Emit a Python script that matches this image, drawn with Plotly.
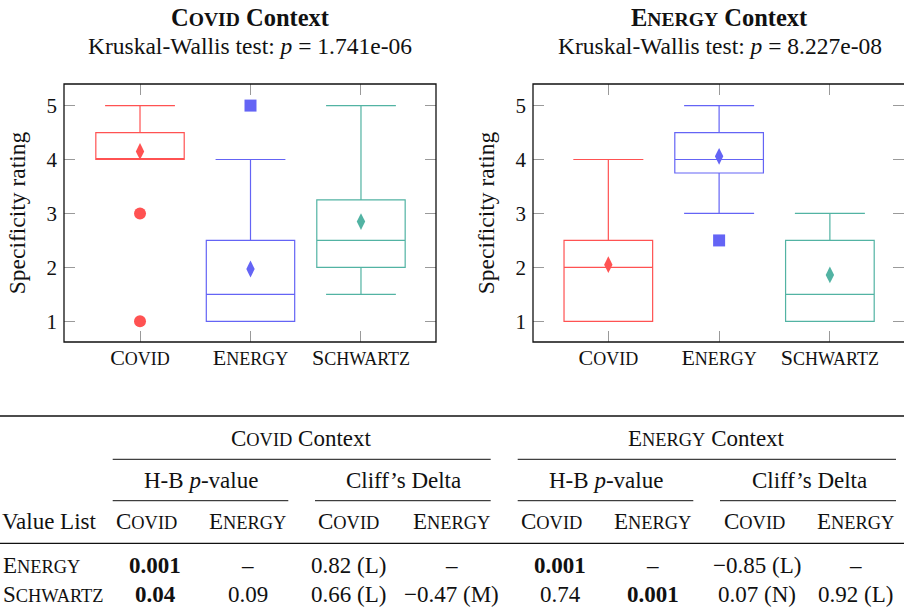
import plotly.graph_objects as go

W, H = 904, 612
FONT = "Liberation Serif"

# ---- box-plot data: specificity ratings per value list ----
categories = ["Covid", "Energy", "Schwartz"]
colors = ["#ff5252", "#6464f5", "#52b3a3"]
outlier_symbols = ["circle", "square", "circle"]

covid_q1 = [4.0, 1.0, 2.0]
covid_median = [4.0, 1.5, 2.5]
covid_q3 = [4.5, 2.5, 3.25]
covid_lower = [4.0, 1.0, 1.5]
covid_upper = [5.0, 4.0, 5.0]
covid_mean = [4.15, 1.97, 2.85]
covid_outliers = [[3.0, 1.0], [5.0], []]

energy_q1 = [1.0, 3.75, 1.0]
energy_median = [2.0, 4.0, 1.5]
energy_q3 = [2.5, 4.5, 2.5]
energy_lower = [1.0, 3.0, 1.0]
energy_upper = [4.0, 5.0, 3.0]
energy_mean = [2.05, 4.06, 1.86]
energy_outliers = [[], [2.5], []]

contexts = ["Covid", "Energy"]
kw_pvalues = ["1.741e-06", "8.227e-08"]
y_ticks = [1, 2, 3, 4, 5]

# ---- pairwise test table ----
row_lists = ["Energy", "Schwartz"]
col_lists = ["Covid", "Energy"]
covid_ctx_hb = [[0.001, None], [0.04, 0.09]]
covid_ctx_delta = [[(0.82, "L"), None], [(0.66, "L"), (-0.47, "M")]]
energy_ctx_hb = [[0.001, None], [0.74, 0.001]]
energy_ctx_delta = [[(-0.85, "L"), None], [(0.07, "N"), (0.92, "L")]]


def sc(word, size, ratio=0.8):
    """Fake small caps: full-size first letter, reduced capitals after."""
    return word[0] + f"<span style='font-size:{size * ratio:.1f}px'>{word[1:].upper()}</span>"


def px(x):
    return x / W


def py(y):
    return 1 - y / H


fig = go.Figure()

panels = [
    dict(q1=covid_q1, med=covid_median, q3=covid_q3, lo=covid_lower, hi=covid_upper,
         mean=covid_mean, out=covid_outliers, xa="x", ya="y"),
    dict(q1=energy_q1, med=energy_median, q3=energy_q3, lo=energy_lower, hi=energy_upper,
         mean=energy_mean, out=energy_outliers, xa="x2", ya="y2"),
]

for p in panels:
    for i, cat in enumerate(categories):
        fig.add_trace(go.Box(
            x=[i], q1=[p["q1"][i]], median=[p["med"][i]], q3=[p["q3"][i]],
            lowerfence=[p["lo"][i]], upperfence=[p["hi"][i]],
            width=0.8, whiskerwidth=0.79, boxpoints=False,
            line=dict(color=colors[i], width=1.2),
            fillcolor="rgba(255,255,255,0)",
            showlegend=False, hoverinfo="skip", name=cat,
            xaxis=p["xa"], yaxis=p["ya"],
        ))
        fig.add_trace(go.Scatter(
            x=[i], y=[p["mean"][i]], mode="markers",
            marker=dict(symbol="diamond-tall", size=12, color=colors[i]),
            showlegend=False, xaxis=p["xa"], yaxis=p["ya"],
        ))
        if p["out"][i]:
            fig.add_trace(go.Scatter(
                x=[i] * len(p["out"][i]), y=p["out"][i], mode="markers",
                marker=dict(symbol=outlier_symbols[i], size=12, color=colors[i]),
                showlegend=False, xaxis=p["xa"], yaxis=p["ya"],
            ))

TICK_FS = 22
xaxis_common = dict(
    tickvals=list(range(len(categories))),
    ticktext=[sc(c, TICK_FS, 0.82) for c in categories],
    ticks="inside", ticklen=11, tickwidth=1.3, tickcolor="#9a9a9a",
    mirror="ticks", showline=False, showgrid=False, zeroline=False,
    tickfont=dict(family=FONT, size=TICK_FS, color="#111"),
    fixedrange=True,
)
yaxis_common = dict(
    range=[0.617, 5.40], tickvals=y_ticks,
    ticks="inside", ticklen=11, tickwidth=1.3, tickcolor="#9a9a9a",
    mirror="ticks", showline=False, showgrid=False, zeroline=False,
    tickfont=dict(family=FONT, size=21, color="#111"),
    ticklabelstandoff=6,
    title=dict(text="Specificity rating", font=dict(family=FONT, size=23.5, color="#111"),
               standoff=14),
    domain=[py(342), py(84)],
    fixedrange=True,
)

frames = [(64, 436), (533, 906)]
fig.update_layout(
    width=W, height=H,
    margin=dict(l=0, r=0, t=0, b=0),
    paper_bgcolor="white", plot_bgcolor="white",
    boxmode="overlay", showlegend=False,
    xaxis=dict(xaxis_common, domain=[px(64), px(436)], range=[-0.688, 2.679], anchor="y"),
    yaxis=dict(yaxis_common, anchor="x"),
    xaxis2=dict(xaxis_common, domain=[px(533), 1.0], range=[-0.680, 2.669], anchor="y2"),
    yaxis2=dict(yaxis_common, anchor="x2"),
)

shapes = []
annotations = []

# plot frames
for x0, x1 in frames:
    shapes.append(dict(type="rect", xref="paper", yref="paper",
                       x0=px(x0), x1=px(x1), y0=py(342), y1=py(84),
                       line=dict(color="#111", width=1.3), layer="above"))

# panel titles
for (x0, x1), ctx, pv in zip(frames, contexts, kw_pvalues):
    cx = px((x0 + x1) / 2)
    annotations.append(dict(
        text="<b>" + sc(ctx, 24.5) + " Context</b>", x=cx, y=py(17.5),
        xref="paper", yref="paper", showarrow=False, xanchor="center", yanchor="middle",
        font=dict(family=FONT, size=24.5, color="#111")))
    annotations.append(dict(
        text=f"Kruskal-Wallis test: <i>p</i> = {pv}", x=cx, y=py(46),
        xref="paper", yref="paper", showarrow=False, xanchor="center", yanchor="middle",
        font=dict(family=FONT, size=23.5, color="#111")))

# ---- table ----
TFS = 23
tfont = dict(family=FONT, size=TFS, color="#111")


def cell(text, x, y, anchor="center"):
    annotations.append(dict(text=text, x=px(x), y=py(y), xref="paper", yref="paper",
                            showarrow=False, xanchor=anchor, yanchor="middle", font=tfont))


def hline(y, x0, x1, width):
    shapes.append(dict(type="line", xref="paper", yref="paper",
                       x0=px(x0), x1=px(x1), y0=py(y), y1=py(y),
                       line=dict(color="#111", width=width)))


ROW_Y = [438, 480, 521.5, 565, 594]
ctx_spans = [(112.7, 490.7), (517.7, 896)]
group_spans = [[(112.7, 288.3), (315, 490.7)], [(517.7, 693.3), (720, 896)]]
col_x = [[146, 247.5, 348.5, 451], [551, 652.5, 754, 855]]
val_x = [[155, 247.5, 348.7, 451], [560, 652.5, 757, 855]]

hline(416, 0, W, 1.7)
hline(543.3, 0, W, 1.2)
for ci, ctx in enumerate(contexts):
    a, b = ctx_spans[ci]
    cell(sc(ctx, TFS) + " Context", (a + b) / 2, ROW_Y[0])
    hline(459.3, a, b, 1.0)
    for gi, (g0, g1) in enumerate(group_spans[ci]):
        label = "H-B <i>p</i>-value" if gi == 0 else "Cliff\u2019s Delta"
        cell(label, (g0 + g1) / 2 + (0 if gi == 0 else 1), ROW_Y[1])
        hline(500.7, g0, g1, 1.0)
    for k in range(4):
        cell(sc(col_lists[k % 2], TFS), col_x[ci][k], ROW_Y[2])

cell("Value List", 0, ROW_Y[2], anchor="left")


def fmt_p(v):
    if v is None:
        return "\u2013"
    s = f"{v:g}"
    return f"<b>{s}</b>" if v < 0.05 else s


def fmt_d(v):
    if v is None:
        return "\u2013"
    d, mag = v
    s = f"{abs(d):.2f}"
    return ("\u2212" if d < 0 else "") + s + f" ({mag})"


for ri, row in enumerate(row_lists):
    y = ROW_Y[3 + ri]
    cell(sc(row, TFS), 1, y, anchor="left")
    for ci, (hb, dl) in enumerate([(covid_ctx_hb, covid_ctx_delta),
                                   (energy_ctx_hb, energy_ctx_delta)]):
        for k in range(2):
            cell(fmt_p(hb[ri][k]), val_x[ci][k], y)
            cell(fmt_d(dl[ri][k]), val_x[ci][2 + k], y)

fig.update_layout(shapes=shapes, annotations=annotations)
fig.write_html("out.html")
